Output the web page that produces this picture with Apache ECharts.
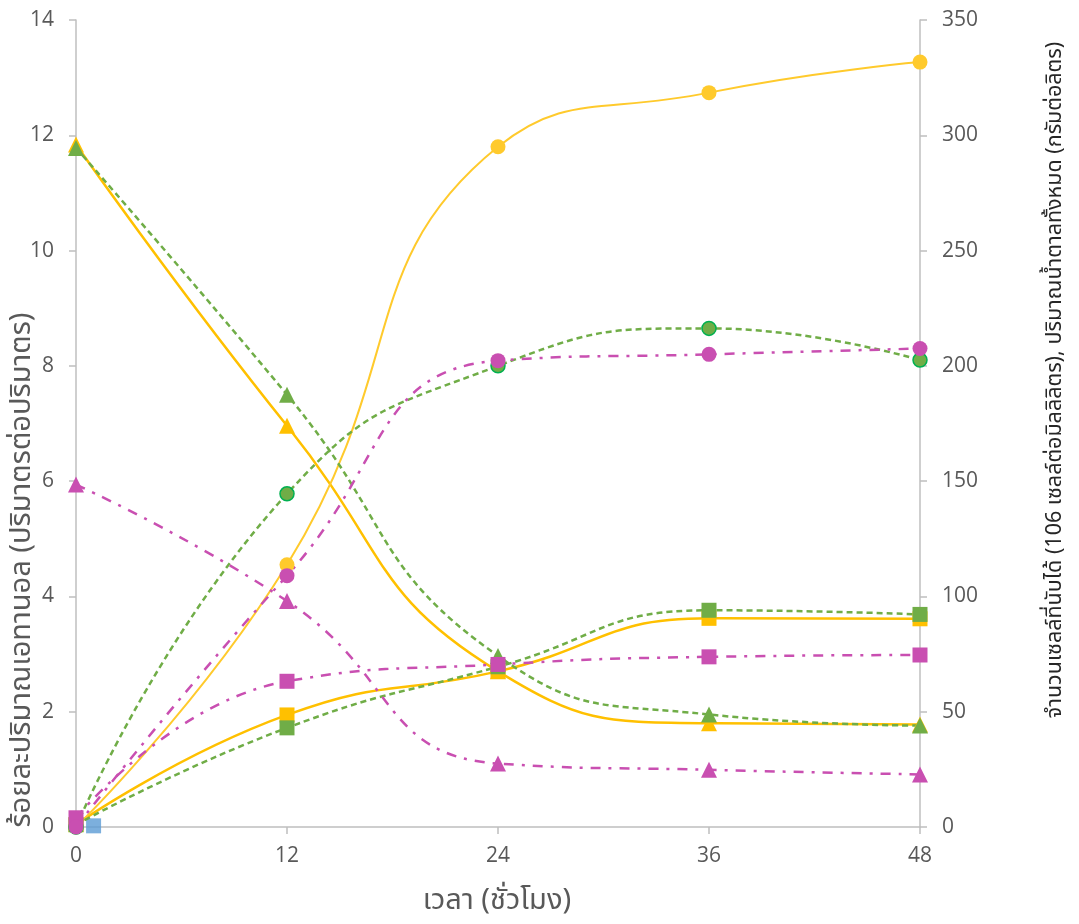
<!DOCTYPE html>
<html>
<head>
<meta charset="utf-8">
<script src="https://cdn.jsdelivr.net/npm/echarts@6/dist/echarts.min.js"></script>
<style>
html,body{margin:0;padding:0;background:#fff;}
#chart{width:1079px;height:924px;}
</style>
</head>
<body>
<div id="chart"></div>
<script>
// ---- data ----
const times = [0, 12, 24, 36, 48];
const xTicks = [0, 12, 24, 36, 48];
// ethanol (% v/v), left axis
const ethanolYellow = [0, 4.55, 11.8, 12.74, 13.27];
const ethanolGreen = [0, 5.78, 8.0, 8.65, 8.1];
const ethanolMagenta = [0, 4.36, 8.09, 8.2, 8.3];
// total sugar (g/L), right axis
const sugarYellow = [296, 174, 67.5, 45, 44.5];
const sugarGreen = [294.5, 187.5, 74.2, 48.8, 44];
const sugarMagenta = [148.5, 98, 27.5, 24.8, 22.8];
// cell count (10^6 cells/mL), right axis
const cellsYellow = [1, 48.6, 67.5, 90.5, 90.3];
const cellsGreen = [1, 43, 69.5, 94, 92.2];
const cellsMagenta = [4, 63.2, 70.5, 73.8, 74.6];
// stray single point
const blueX = [1];
const blueY = [0.5];

const xTitle = 'เวลา (ชั่วโมง)';
const leftTitle = 'ร้อยละปริมาณเอทานอล (ปริมาตรต่อปริมาตร)';
const rightTitle = 'จำนวนเซลล์ที่นับได้ (106 เซลล์ต่อมิลลิลิตร), ปริมาณน้ำตาลทั้งหมด (กรัมต่อลิตร)';

const pairs = (xs, ys) => xs.map((x, i) => [x, ys[i]]);

const YEL = '#FFC000', YEL2 = '#FFCA2C', GRN = '#70AD47', GRNB = '#00B050', MAG = '#C94FB1', BLU = '#5B9BD5';
const FONT = '"Noto Sans Thai","Tahoma","Noto Sans","DejaVu Sans",sans-serif';
const NUMFONT = '"Open Sans","Noto Sans",sans-serif';
const dashG = [6, 4];
const dashM = [10, 8, 3, 8];

function mk(name, ys, yAxis, color, symbol, size, lineType, width, border) {
  return {
    name, type: 'line', xAxisIndex: 0, yAxisIndex: yAxis,
    data: pairs(times, ys), smooth: 0.5,
    symbol, symbolSize: size, showSymbol: true,
    lineStyle: {color, width, type: lineType},
    itemStyle: Object.assign({color, opacity: 1}, border ? {borderColor: border, borderWidth: 1.5} : {borderWidth: 0}),
    emphasis: {disabled: true}, animation: false
  };
}

const series = [
  mk('sugarY', sugarYellow, 1, YEL, 'triangle', 16, 'solid', 2.5),
  mk('cellsY', cellsYellow, 1, YEL, 'rect', 15, 'solid', 2.5),
  mk('ethY', ethanolYellow, 0, YEL2, 'circle', 15, 'solid', 2),
  mk('sugarG', sugarGreen, 1, GRN, 'triangle', 16, dashG, 2.5),
  mk('cellsG', cellsGreen, 1, GRN, 'rect', 15, dashG, 2.5),
  mk('ethG', ethanolGreen, 0, GRN, 'circle', 14, dashG, 2.5, GRNB),
  mk('sugarM', sugarMagenta, 1, MAG, 'triangle', 16, dashM, 2.5),
  mk('cellsM', cellsMagenta, 1, MAG, 'rect', 15, dashM, 2.5),
  mk('ethM', ethanolMagenta, 0, MAG, 'circle', 15, dashM, 2.5),
  {
    name: 'blue', type: 'scatter', yAxisIndex: 1,
    data: pairs(blueX, blueY), symbol: 'rect', symbolSize: 15,
    itemStyle: {color: BLU}, animation: false
  }
];

const axisLine = {show: true, lineStyle: {color: '#BFBFBF', width: 1.5}};
const axisTick = {show: true, inside: false, length: 7, lineStyle: {color: '#BFBFBF', width: 1.5}};
const lbl = {color: '#595959', fontSize: 21, fontFamily: NUMFONT};

const chart = echarts.init(document.getElementById('chart'), null, {renderer: 'canvas'});
chart.setOption({
  animation: false,
  backgroundColor: '#fff',
  grid: {left: 76, right: 159, top: 20, bottom: 97, containLabel: false},
  xAxis: {
    type: 'value', min: 0, max: 48, interval: 12,
    axisLine, axisTick, splitLine: {show: false},
    axisLabel: Object.assign({margin: 19}, lbl)
  },
  yAxis: [
    {type: 'value', min: 0, max: 14, interval: 2, position: 'left',
     axisLine, axisTick, splitLine: {show: false},
     axisLabel: Object.assign({margin: 22}, lbl)},
    {type: 'value', min: 0, max: 350, interval: 50, position: 'right',
     axisLine, axisTick, splitLine: {show: false},
     axisLabel: Object.assign({margin: 22}, lbl)}
  ],
  graphic: [
    {type: 'text', x: 497, y: 903, style: {text: xTitle, fontSize: 29, fill: '#595959', fontFamily: FONT, textAlign: 'center', textVerticalAlign: 'middle'}},
    {type: 'text', rotation: Math.PI / 2, x: 24, y: 570, style: {text: leftTitle, fontSize: 29, fill: '#595959', fontFamily: FONT, textAlign: 'center', textVerticalAlign: 'middle'}},
    {type: 'text', rotation: Math.PI / 2, x: 1057, y: 380, style: {text: rightTitle, fontSize: 21.5, fill: '#262626', fontFamily: FONT, textAlign: 'center', textVerticalAlign: 'middle'}}
  ],
  series
});
</script>
</body>
</html>
